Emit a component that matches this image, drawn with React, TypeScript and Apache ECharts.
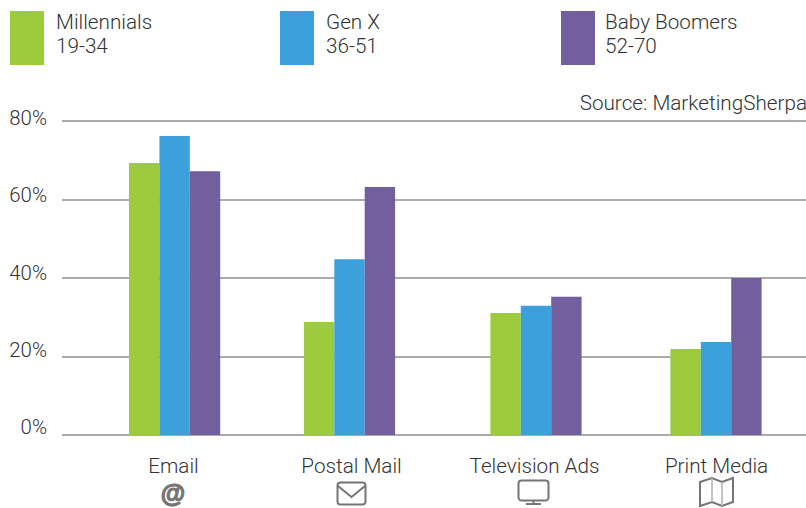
import React, { useEffect, useRef } from "react";
import * as echarts from "echarts";

const categories = ["Email", "Postal Mail", "Television Ads", "Print Media"];
const groupCentres = [112.6, 287.5, 474, 654];
const labelCentres = [111.5, 289.5, 472.5, 654.5];
const seriesNames = ["Millennials", "Gen X", "Baby Boomers"];
const ageRanges = ["19-34", "36-51", "52-70"];
const millennials = [69.3, 28.8, 31.1, 21.9];
const genX = [76.2, 44.8, 32.9, 23.7];
const babyBoomers = [67.2, 63.2, 35.2, 40];
const yTicks = [0, 20, 40, 60, 80];

const colors = ["#9ccb3b", "#3ba0dc", "#735e9e"];
const FONT = "Roboto";
const TEXT = "#333333";
const ICON = "#757575";

const toPoints = (vals: number[]) => vals.map((v, i) => [groupCentres[i], v]);

export default function App() {
  const ref = useRef<HTMLDivElement>(null);
  useEffect(() => {
    document.body.style.margin = "0";
    const chart = echarts.init(ref.current!, null, { renderer: "svg" });
    const line = {
      fontFamily: FONT,
      fontWeight: 300,
      fontSize: 20.7,
      lineHeight: 24,
      color: TEXT,
    };
    const legendAt = (i: number, left: number, gap: number) => ({
      left,
      top: 10,
      padding: 0,
      data: [seriesNames[i]],
      icon: "rect",
      itemWidth: 34,
      itemHeight: 54,
      selectedMode: false,
      formatter: (n: string) => `{t|${n}}\n{t|${ageRanges[seriesNames.indexOf(n)]}}\n{s| }`,
      textStyle: {
        ...line,
        padding: [0, 0, 0, gap],
        rich: { t: line, s: { fontSize: 6, lineHeight: 8 } },
      },
    });
    const iconStyle = { stroke: ICON, lineWidth: 2, fill: "none" };
    chart.setOption({
      animation: false,
      legend: [legendAt(0, 10, 7), legendAt(1, 280, 7), legendAt(2, 561, 5)],
      grid: [
        { left: 62, right: 0, top: 121, height: 314 },
        { left: 62, right: 0, top: 118, height: 309 },
      ],
      xAxis: [
        {
          type: "value",
          gridIndex: 0,
          min: 0,
          max: 744,
          splitLine: { show: false },
          axisLine: { show: false },
          axisTick: { show: false },
          axisLabel: {
            show: true,
            customValues: labelCentres,
            formatter: (v: number) => categories[labelCentres.indexOf(v)] ?? "",
            fontFamily: FONT,
            fontWeight: 300,
            fontSize: 20.7,
            color: TEXT,
            margin: 20,
            hideOverlap: false,
          },
        },
        { type: "value", gridIndex: 1, min: 0, max: 744, show: false },
      ],
      yAxis: [
        {
          type: "value",
          gridIndex: 0,
          min: 0,
          max: 80,
          interval: 20,
          axisLine: { show: false },
          axisTick: { show: false },
          axisLabel: { show: false },
          splitLine: { show: true, lineStyle: { color: "#8f8f8f", width: 1.5 } },
        },
        {
          type: "value",
          gridIndex: 1,
          min: yTicks[0],
          max: yTicks[yTicks.length - 1],
          interval: 20,
          axisLine: { show: false },
          axisTick: { show: false },
          splitLine: { show: false },
          axisLabel: {
            formatter: "{value}%",
            fontFamily: FONT,
            fontWeight: 300,
            fontSize: 20.4,
            color: TEXT,
            margin: 15,
          },
        },
      ],
      series: [millennials, genX, babyBoomers].map((vals, i) => ({
        type: "bar",
        name: seriesNames[i],
        xAxisIndex: 0,
        yAxisIndex: 0,
        data: toPoints(vals),
        barWidth: 30.4,
        barGap: 0,
        itemStyle: { color: colors[i] },
      })),
      color: colors,
      graphic: [
        {
          type: "text",
          right: -1,
          top: 92,
          style: {
            text: "Source: MarketingSherpa",
            fontFamily: FONT,
            fontWeight: 300,
            fontSize: 20.7,
            fill: TEXT,
          },
        },
        {
          type: "text",
          x: 173,
          y: 493,
          style: {
            text: "@",
            fontFamily: "Liberation Sans",
            fontWeight: 700,
            fontSize: 25,
            fill: ICON,
            stroke: ICON,
            lineWidth: 1.2,
            align: "center",
            verticalAlign: "middle",
          },
        },
        { type: "rect", shape: { x: 337.5, y: 482.5, width: 28, height: 22, r: 3 }, style: iconStyle },
        { type: "polyline", shape: { points: [[338, 486], [351.5, 497], [365, 486]] }, style: iconStyle },
        { type: "rect", shape: { x: 518.5, y: 480.5, width: 30, height: 20, r: 3 }, style: iconStyle },
        { type: "line", shape: { x1: 533.5, y1: 500, x2: 533.5, y2: 504 }, style: iconStyle },
        { type: "line", shape: { x1: 526, y1: 504, x2: 541, y2: 504 }, style: iconStyle },
        {
          type: "polygon",
          shape: {
            points: [[700, 482], [712, 478], [722, 482], [733, 478], [733, 502], [722, 506], [712, 502], [700, 506]],
          },
          style: iconStyle,
        },
        { type: "line", shape: { x1: 712, y1: 478, x2: 712, y2: 502 }, style: { stroke: "#b0b0b0", lineWidth: 1.5 } },
        { type: "line", shape: { x1: 722, y1: 482, x2: 722, y2: 506 }, style: { stroke: "#b0b0b0", lineWidth: 1.5 } },
      ],
    });
    return () => chart.dispose();
  }, []);
  return <div ref={ref} style={{ width: 806, height: 508 }} />;
}
